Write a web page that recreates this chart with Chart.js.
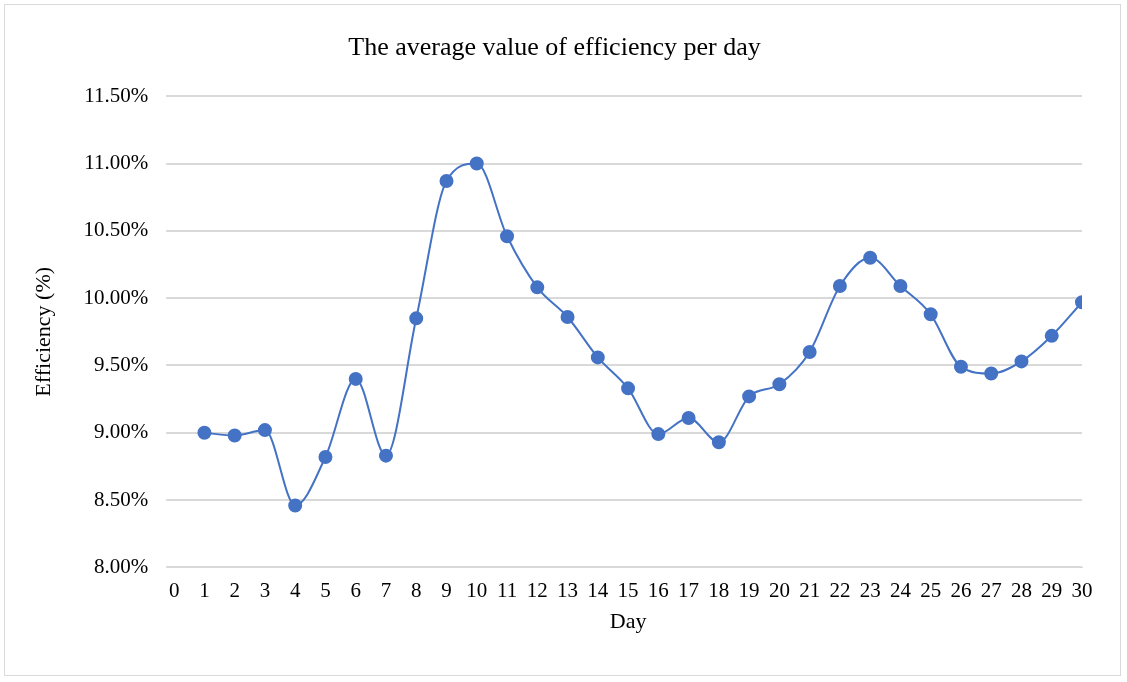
<!DOCTYPE html>
<html>
<head>
<meta charset="utf-8">
<script src="https://cdn.jsdelivr.net/npm/chart.js@4"></script>
<style>
  html, body { margin: 0; padding: 0; background: #fff; }
  #wrap { position: absolute; left: 4px; top: 4px; width: 1117px; height: 672px; border: 1px solid #d9d9d9; box-sizing: border-box; }
</style>
</head>
<body>
<div id="wrap"><canvas id="grafico"></canvas></div>
<script>
// days and daily average efficiency (%)
const days = [1, 2, 3, 4, 5, 6, 7, 8, 9, 10, 11, 12, 13, 14, 15, 16, 17, 18, 19, 20, 21, 22, 23, 24, 25, 26, 27, 28, 29, 30];
const efficiency = [9.00, 8.98, 9.02, 8.46, 8.82, 9.40, 8.83, 9.85, 10.87, 11.00, 10.46, 10.08, 9.86, 9.56, 9.33,
  8.99, 9.11, 8.93, 9.27, 9.36, 9.60, 10.09, 10.30, 10.09, 9.88, 9.49, 9.44, 9.53, 9.72, 9.97];

const blue = "rgb(68, 114, 196)";
const font = "'Liberation Serif', 'Times New Roman', serif";

const config = {
  type: "line",
  data: {
    datasets: [{
      label: "Efficiency",
      data: days.map((d, i) => ({ x: d, y: efficiency[i] })),
      borderColor: blue,
      backgroundColor: blue,
      borderWidth: 2,
      pointRadius: 6,
      pointHoverRadius: 6,
      cubicInterpolationMode: "monotone",
      tension: 0.4,
    }],
  },
  options: {
    responsive: true,
    maintainAspectRatio: false,
    animation: false,
    layout: { padding: { left: 22, right: 38, top: 24, bottom: 36 } },
    plugins: {
      legend: { display: false },
      tooltip: { enabled: false },
      title: {
        display: true,
        text: "The average value of efficiency per day",
        color: "#000",
        font: { family: font, size: 26, weight: "normal" },
        padding: { top: 4, bottom: 32 },
      },
    },
    scales: {
      x: {
        type: "linear",
        min: 0,
        max: 30,
        grid: { display: false },
        border: { color: "#d9d9d9", width: 1 },
        ticks: { stepSize: 1, color: "#000", font: { family: font, size: 21 }, maxRotation: 0, autoSkip: false },
        title: { display: true, text: "Day", color: "#000", font: { family: font, size: 22 }, padding: { top: 2 } },
      },
      y: {
        min: 8,
        max: 11.5,
        grid: { color: "#d9d9d9", lineWidth: 2 },
        border: { display: false },
        ticks: {
          stepSize: 0.5,
          color: "#000",
          padding: 18,
          font: { family: font, size: 21 },
          callback: (v) => v.toFixed(2) + "%",
        },
        title: { display: true, text: "Efficiency (%)", color: "#000", font: { family: font, size: 22 }, padding: { bottom: 8 } },
      },
    },
  },
};

const grafico = new Chart(document.getElementById("grafico"), config);
</script>
</body>
</html>
